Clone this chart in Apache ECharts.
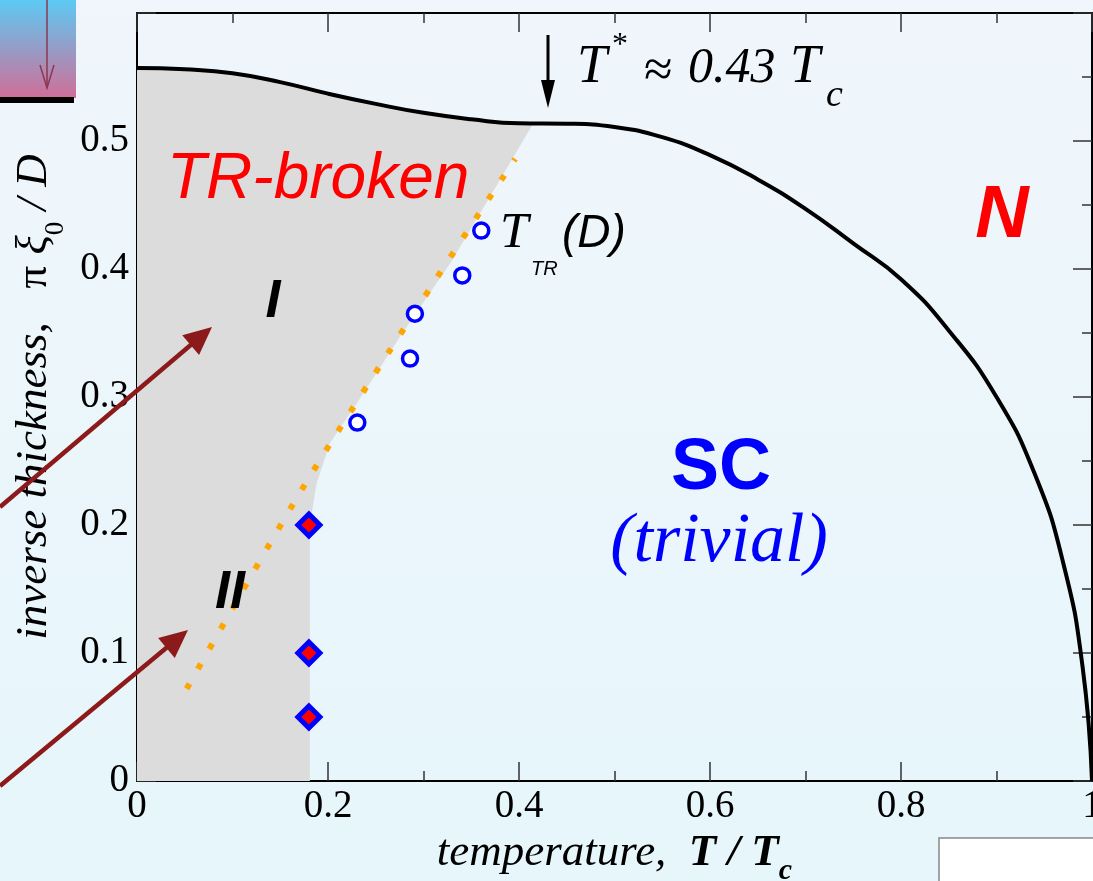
<!DOCTYPE html>
<html><head><meta charset="utf-8">
<script src="https://cdn.jsdelivr.net/npm/echarts@6/dist/echarts.min.js"></script>
<style>html,body{margin:0;padding:0;background:#eef6fb;overflow:hidden}#c{width:1093px;height:881px}</style>
</head><body><div id="c"></div>
<script>
// ---- data ----
// phase boundary SC / N : [T/Tc, pi*xi0/D]
const scBoundary = [
  [0, 0.557], [0.05, 0.556], [0.1, 0.553], [0.15, 0.546], [0.2, 0.537], [0.25, 0.529],
  [0.3, 0.522], [0.35, 0.517], [0.4, 0.5138], [0.45, 0.5135], [0.5, 0.511], [0.55, 0.503],
  [0.6, 0.489], [0.65, 0.470], [0.7, 0.447], [0.75, 0.420], [0.8, 0.392], [0.85, 0.352],
  [0.9, 0.300], [0.94, 0.240], [0.97, 0.170], [0.99, 0.090], [1.0, 0.0]
];
// right edge of the grey TR-broken region (from the top curve down to the T axis)
const trEdge = [
  [0.415, 0.5138], [0.38, 0.4695], [0.328, 0.4044], [0.2754, 0.347], [0.23, 0.295],
  [0.202, 0.2638], [0.188, 0.2325], [0.181, 0.20], [0.181, 0]
];
// orange dotted guide line
const trGuide = [[0.052, 0.072], [0.172, 0.227], [0.300, 0.377], [0.396, 0.486]];
// T_TR(D) open circles
const ttrPoints = [[0.2307, 0.280], [0.2859, 0.330], [0.291, 0.365], [0.3406, 0.395], [0.3605, 0.430]];
// diamonds at T = 0.18
const diamondPoints = [[0.18, 0.05], [0.18, 0.1], [0.18, 0.2]];
// axis ticks
const xTickInterval = 0.2, xMin = 0, xMax = 1;
const yTickInterval = 0.1, yMin = 0, yMax = 0.6;

// grey region polygon: top curve up to T=0.4, then the TR edge
const greyRegion = [[0, 0]].concat(scBoundary.filter(p => p[0] <= 0.4), trEdge);

const chart = echarts.init(document.getElementById('c'), null, {renderer: 'canvas'});

function arrow(x0, y0, x1, y1, color, w, hl, hw) {
  const dx = x1 - x0, dy = y1 - y0, L = Math.hypot(dx, dy);
  const ux = dx / L, uy = dy / L, nx = -uy, ny = ux;
  const bx = x1 - hl * ux, by = y1 - hl * uy;
  return [
    {type: 'line', shape: {x1: x0, y1: y0, x2: bx + 2 * ux, y2: by + 2 * uy}, style: {stroke: color, lineWidth: w}, z: 100},
    {type: 'polygon', shape: {points: [[x1, y1], [bx + hw * nx, by + hw * ny], [bx - hw * nx, by - hw * ny]]}, style: {fill: color}, z: 100}
  ];
}

const serif = '"Liberation Serif", "DejaVu Serif", serif';
const sans = '"Liberation Sans", Arial, sans-serif';

const tickCommon = {
  axisLine: {show: true, onZero: false, lineStyle: {color: '#000', width: 2}},
  axisTick: {show: true, inside: true, length: 19, lineStyle: {color: '#333', width: 1.5}},
  minorTick: {show: true, splitNumber: 2, length: 10, lineStyle: {color: '#333', width: 1.5}},
  splitLine: {show: false}
};

const option = {
  backgroundColor: {type: 'linear', x: 0, y: 0, x2: 0, y2: 1,
    colorStops: [{offset: 0, color: '#f0f6fb'}, {offset: 1, color: '#e6f6fb'}]},
  animation: false,
  grid: {left: 137, right: 1, top: 13, bottom: 100, containLabel: false, outerBoundsMode: 'none', show: false},
  xAxis: [
    Object.assign({type: 'value', min: xMin, max: xMax, interval: xTickInterval, position: 'bottom',
     axisLabel: {color: '#000', fontFamily: serif, fontSize: 39, margin: 6},
     name: '{it|temperature,  }{b|T / T}{bs|c}', nameLocation: 'middle', nameGap: 41,
     nameTextStyle: {rich: {
       it: {fontFamily: serif, fontStyle: 'italic', fontSize: 45, color: '#000', lineHeight: 45, verticalAlign: 'top'},
       b: {fontFamily: serif, fontStyle: 'italic', fontWeight: 'bold', fontSize: 45, color: '#000', lineHeight: 45, verticalAlign: 'top'},
       bs: {fontFamily: serif, fontStyle: 'italic', fontWeight: 'bold', fontSize: 30, color: '#000', lineHeight: 55, verticalAlign: 'bottom'}
     }}}, tickCommon),
    Object.assign({type: 'value', min: xMin, max: xMax, interval: xTickInterval, position: 'top',
     axisLabel: {show: false}}, tickCommon)
  ],
  yAxis: [
    Object.assign({type: 'value', min: yMin, max: yMax, interval: yTickInterval, position: 'left',
     axisLabel: {color: '#000', fontFamily: serif, fontSize: 39, margin: 8, showMaxLabel: false,
       formatter: v => (v >= 0.599 ? '' : String(+v.toFixed(1)))},
     name: '{it|inverse thickness,   }{up|π }{it|ξ}{sub|0}{it| / D}', nameLocation: 'middle', nameRotate: 90, nameGap: 66,
     nameTextStyle: {rich: {
       it: {fontFamily: serif, fontStyle: 'italic', fontSize: 45, color: '#000', lineHeight: 45, verticalAlign: 'top'},
       up: {fontFamily: serif, fontSize: 45, color: '#000', lineHeight: 45, verticalAlign: 'top'},
       sub: {fontFamily: serif, fontSize: 27, color: '#000', lineHeight: 58, verticalAlign: 'bottom'}
     }}}, tickCommon),
    Object.assign({type: 'value', min: yMin, max: yMax, interval: yTickInterval, position: 'right',
     axisLabel: {show: false}}, tickCommon)
  ],
  series: [
    {type: 'custom', name: 'TR-broken region', data: greyRegion, z: 1, silent: true,
     renderItem: function (params, api) {
       if (params.dataIndex !== 0) return null;
       const pts = greyRegion.map(p => api.coord(p));
       return {type: 'polygon', shape: {points: pts}, style: {fill: '#dcdcdc'}};
     }},
    {type: 'line', name: 'SC-N boundary', data: scBoundary, smooth: 0.5, showSymbol: false, z: 5,
     lineStyle: {color: '#000', width: 4}},
    {type: 'line', name: 'TR guide', data: trGuide, smooth: 0.3, showSymbol: false, z: 4,
     lineStyle: {color: '#ffa500', width: 6, type: [6, 17], cap: 'butt'}},
    {type: 'scatter', name: 'T_TR(D)', data: ttrPoints, symbol: 'circle', symbolSize: 15, z: 6,
     itemStyle: {color: '#fff', borderColor: '#0000ff', borderWidth: 3.5, opacity: 1}},
    {type: 'scatter', name: 'diamonds', data: diamondPoints, symbol: 'diamond', symbolSize: 22, z: 6,
     itemStyle: {color: '#ff0000', borderColor: '#0000ff', borderWidth: 5, opacity: 1}}
  ],
  graphic: [
    // cut-off neighbouring panel (top-left)
    {type: 'rect', shape: {x: 0, y: 0, width: 76, height: 98}, z: 50,
     style: {fill: {type: 'linear', x: 0, y: 0, x2: 0, y2: 1, colorStops: [{offset: 0, color: '#5ccaf4'}, {offset: 1, color: '#d06e98'}]}}},
    {type: 'line', shape: {x1: 47, y1: 0, x2: 47, y2: 87}, style: {stroke: '#8a3850', lineWidth: 1.5}, z: 51},
    {type: 'polyline', shape: {points: [[40, 65], [47, 88], [54, 65]]}, style: {stroke: '#8a3850', lineWidth: 1.5, fill: null}, z: 51},
    {type: 'rect', shape: {x: 0, y: 97, width: 74, height: 6}, style: {fill: '#000'}, z: 51},
    // cut-off box bottom-right
    {type: 'rect', shape: {x: 939, y: 838, width: 160, height: 60}, style: {fill: '#fff', stroke: '#888', lineWidth: 1.5}, z: 50},
    // red arrows
    ...arrow(0, 507, 212, 327, '#8c1a1a', 4.5, 28, 13),
    ...arrow(0, 786, 188, 630, '#8c1a1a', 4.5, 28, 13),
    // T* arrow
    {type: 'line', shape: {x1: 548, y1: 35, x2: 548, y2: 92}, style: {stroke: '#000', lineWidth: 3}, z: 100},
    {type: 'polygon', shape: {points: [[541, 80], [555, 80], [548, 108]]}, style: {fill: '#000'}, z: 100},
    // texts
    {type: 'text', x: 167, y: 180, z: 100, style: {text: 'TR-broken', fill: '#ff0000', font: 'italic 64px ' + sans, verticalAlign: 'middle', align: 'left'}},
    {type: 'text', x: 273, y: 302, z: 100, style: {text: 'I', fill: '#000', font: 'italic bold 54px ' + sans, verticalAlign: 'middle', align: 'center'}},
    {type: 'text', x: 230, y: 593, z: 100, style: {text: 'II', fill: '#000', font: 'italic bold 54px ' + sans, verticalAlign: 'middle', align: 'center'}},
    {type: 'text', x: 1002, y: 217, z: 100, style: {text: 'N', fill: '#ff0000', font: 'italic bold 74px ' + sans, verticalAlign: 'middle', align: 'center'}},
    {type: 'text', x: 721, y: 469, z: 100, style: {text: 'SC', fill: '#0000ff', font: 'bold 72px ' + sans, verticalAlign: 'middle', align: 'center'}},
    {type: 'text', x: 719, y: 543, z: 100, style: {text: '(trivial)', fill: '#0000ff', font: 'italic 70px ' + serif, verticalAlign: 'middle', align: 'center'}},
    {type: 'text', x: 500, y: 234, z: 100, style: {text: 'T', fill: '#000', font: 'italic 51px ' + serif, verticalAlign: 'middle', align: 'left'}},
    {type: 'text', x: 531, y: 269, z: 100, style: {text: 'TR', fill: '#000', font: 'italic 20px ' + sans, verticalAlign: 'middle', align: 'left'}},
    {type: 'text', x: 562, y: 234, z: 100, style: {text: '(D)', fill: '#000', font: 'italic 46px ' + sans, verticalAlign: 'middle', align: 'left'}},
    {type: 'text', x: 577, y: 68, z: 100, style: {text: 'T', fill: '#000', font: 'italic 54px ' + serif, verticalAlign: 'middle', align: 'left'}},
    {type: 'text', x: 612, y: 46, z: 100, style: {text: '*', fill: '#000', font: '32px ' + serif, verticalAlign: 'middle', align: 'left'}},
    {type: 'text', x: 644, y: 72, z: 100, style: {text: '≈', fill: '#000', font: '52px ' + serif, verticalAlign: 'middle', align: 'left'}},
    {type: 'text', x: 688, y: 69, z: 100, style: {text: '0.43', fill: '#000', font: 'italic 50px ' + serif, verticalAlign: 'middle', align: 'left'}},
    {type: 'text', x: 790, y: 68, z: 100, style: {text: 'T', fill: '#000', font: 'italic 54px ' + serif, verticalAlign: 'middle', align: 'left'}},
    {type: 'text', x: 826, y: 96, z: 100, style: {text: 'c', fill: '#000', font: 'italic 38px ' + serif, verticalAlign: 'middle', align: 'left'}}
  ]
};
chart.setOption(option);
</script>
</body></html>
